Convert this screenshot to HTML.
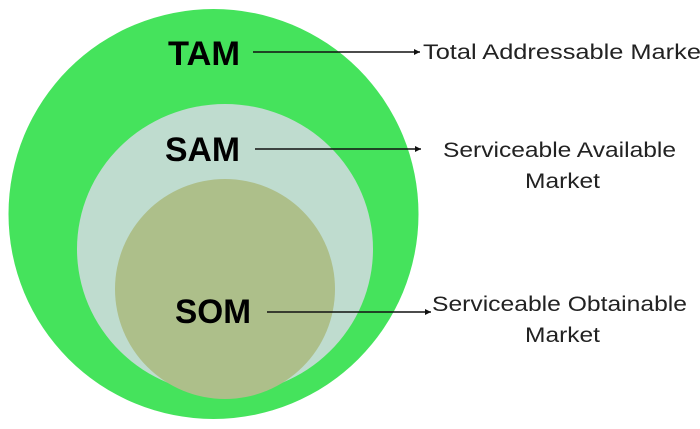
<!DOCTYPE html>
<html><head><meta charset="utf-8"><style>
html,body{margin:0;padding:0;background:#fff;width:700px;height:429px;overflow:hidden}
</style></head><body>
<svg width="700" height="429" viewBox="0 0 700 429" xmlns="http://www.w3.org/2000/svg">
<defs><marker id="a" markerWidth="8" markerHeight="8" refX="6" refY="3" orient="auto" markerUnits="userSpaceOnUse"><path d="M0,0 L6,3 L0,6 z" fill="#111"/></marker></defs>
<circle cx="213.5" cy="214" r="205" fill="#45e35c"/>
<ellipse cx="225" cy="249" rx="148" ry="145" fill="#bfdccf"/>
<circle cx="225" cy="289" r="110" fill="#adbf8a"/>
<g font-family="Liberation Sans, sans-serif" font-weight="bold" fill="#000" font-size="34">
<text x="168" y="65" textLength="72" lengthAdjust="spacingAndGlyphs">TAM</text>
<text x="165" y="161" textLength="75" lengthAdjust="spacingAndGlyphs">SAM</text>
<text x="175" y="323" textLength="76" lengthAdjust="spacingAndGlyphs">SOM</text>
</g>
<g stroke="#111" stroke-width="1.6" marker-end="url(#a)">
<line x1="253" y1="52" x2="420" y2="52"/>
<line x1="255" y1="149" x2="421" y2="149"/>
<line x1="267" y1="312" x2="431" y2="312"/>
</g>
<g font-family="Liberation Sans, sans-serif" fill="#222" font-size="21">
<text x="423" y="59" textLength="285" lengthAdjust="spacingAndGlyphs">Total  Addressable Market</text>
<text x="443" y="157" textLength="233" lengthAdjust="spacingAndGlyphs">Serviceable Available</text>
<text x="525" y="188" textLength="75" lengthAdjust="spacingAndGlyphs">Market</text>
<text x="432" y="311" textLength="255" lengthAdjust="spacingAndGlyphs">Serviceable Obtainable</text>
<text x="525" y="342" textLength="75" lengthAdjust="spacingAndGlyphs">Market</text>
</g>
</svg>
</body></html>
